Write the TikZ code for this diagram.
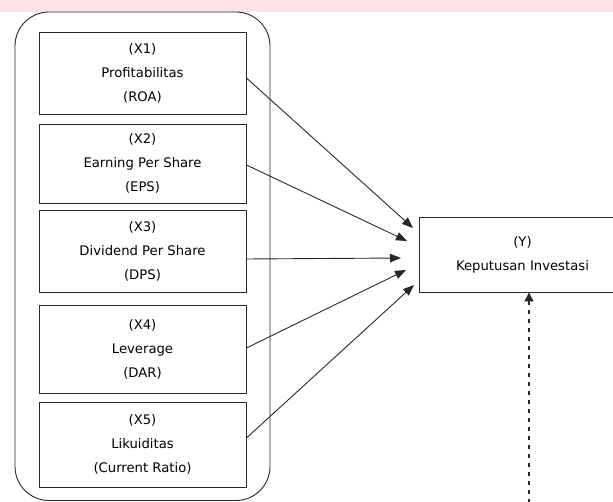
\documentclass[tikz,border=0pt]{standalone}
\usepackage{fontspec}
\setmainfont{DejaVu Sans}
\usetikzlibrary{arrows.meta}
\definecolor{bandpink}{RGB}{252,226,231}
\definecolor{linegray}{RGB}{40,40,40}
\begin{document}
\begin{tikzpicture}[x=1pt,y=-1pt,
  varbox/.style={draw=linegray,line width=0.9pt,minimum width=207pt,align=center,
    font=\fontsize{13.2}{24}\selectfont,inner sep=0pt},
  arr/.style={draw=linegray,line width=0.9pt,-{Triangle[length=11pt,width=8.5pt]}},
  darr/.style={draw=linegray,line width=1.1pt,dash pattern=on 4pt off 5pt,-{Triangle[length=9pt,width=9pt]}}]
\useasboundingbox (0,0) rectangle (613,502);
\clip (0,0) rectangle (613,502);
\fill[bandpink] (0,0) rectangle (613,12);
\draw[linegray,line width=0.9pt,rounded corners=34pt] (15,12) rectangle (270,500.5);
\node[varbox,minimum height=82pt] (x1) at (142.5,73) {(X1)\\Profitabilitas\\(ROA)};
\node[varbox,minimum height=79pt] (x2) at (142.5,163.5) {(X2)\\Earning Per Share\\(EPS)};
\node[varbox,minimum height=82pt] (x3) at (142.5,251) {(X3)\\Dividend Per Share\\(DPS)};
\node[varbox,minimum height=88pt] (x4) at (142.5,349) {(X4)\\Leverage\\(DAR)};
\node[varbox,minimum height=85pt] (x5) at (142.5,444.5) {(X5)\\Likuiditas\\(Current Ratio)};
\node[varbox,minimum height=75pt] (y) at (522.5,254.5) {(Y)\\Keputusan Investasi};
\coordinate (t1) at (413,228);
\coordinate (t2) at (407,241);
\coordinate (t3) at (401,258);
\coordinate (t4) at (406,270);
\coordinate (t5) at (414,285);
\coordinate (d0) at (529,503);
\draw[arr] ([yshift=-5pt]x1.east) -- (t1);
\draw[arr] ([yshift=-1.5pt]x2.east) -- (t2);
\draw[arr] ([yshift=-8pt]x3.east) -- (t3);
\draw[arr] ([yshift=1pt]x4.east) -- (t4);
\draw[arr] ([yshift=6.5pt]x5.east) -- (t5);
\draw[darr] (d0) -- (d0 |- y.south);
\end{tikzpicture}
\end{document}
